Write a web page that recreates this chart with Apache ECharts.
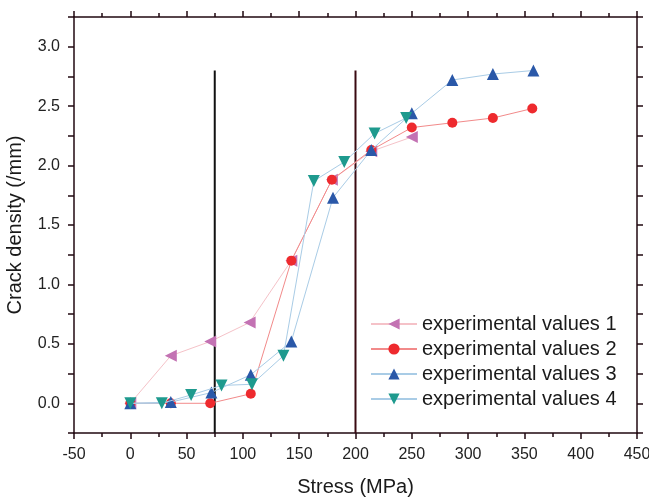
<!DOCTYPE html>
<html>
<head>
<meta charset="utf-8">
<script src="https://cdn.jsdelivr.net/npm/echarts@6/dist/echarts.min.js"></script>
<style>
  html, body { margin: 0; padding: 0; background: #fff; }
  #chart { width: 649px; height: 499px; }
</style>
</head>
<body>
<div id="chart"></div>
<script>
// stress (MPa) and crack density (/mm)
const stress1 = [0, 36, 71, 106, 143, 179, 214, 250];
const density1 = [0, 0.40, 0.52, 0.68, 1.20, 1.88, 2.12, 2.24];

const stress2 = [0, 36, 71, 107, 143, 179, 214, 250, 286, 322, 357];
const density2 = [0, 0, 0, 0.08, 1.20, 1.88, 2.13, 2.32, 2.36, 2.40, 2.48];

const stress3 = [0, 36, 72, 107, 143, 180, 214, 250, 286, 322, 358];
const density3 = [0, 0.01, 0.09, 0.24, 0.52, 1.73, 2.13, 2.44, 2.72, 2.77, 2.80];

const stress4 = [0, 28, 54, 81, 108, 136, 163, 190, 217, 245];
const density4 = [0, 0, 0.07, 0.15, 0.16, 0.40, 1.87, 2.03, 2.27, 2.40];

const seriesNames = ['experimental values 1', 'experimental values 2', 'experimental values 3', 'experimental values 4'];
const refStress = [75, 200];
const refTop = 2.8;

const axisColor = '#200810';
const font = 'Arial, "Liberation Sans", sans-serif';

const pairs = (xs, ys) => xs.map((x, i) => [x, ys[i]]);

const chart = echarts.init(document.getElementById('chart'));

const xCommon = {
  type: 'value',
  min: -50,
  max: 450,
  interval: 50,
  axisLine: { onZero: false, lineStyle: { color: axisColor, width: 1.5 } },
  axisTick: { show: true, length: 6, lineStyle: { color: axisColor, width: 1.5 } },
  minorTick: { show: true, splitNumber: 2, length: 4, lineStyle: { color: axisColor, width: 1.5 } },
  splitLine: { show: false }
};
const yCommon = {
  type: 'value',
  min: -0.25,
  max: 3.25,
  interval: 0.25,
  axisLine: { onZero: false, lineStyle: { color: axisColor, width: 1.5 } },
  axisTick: { show: true, length: 6, lineStyle: { color: axisColor, width: 1.5 } },
  splitLine: { show: false }
};

const refSeries = refStress.map((x, i) => ({
  type: 'line',
  data: [[x, -0.25], [x, refTop]],
  symbol: 'none',
  silent: true,
  lineStyle: { color: i === 0 ? '#111' : '#3a0a12', width: 2 },
  z: 1
}));

const option = {
  animation: false,
  backgroundColor: '#fff',
  textStyle: { fontFamily: font },
  grid: { left: 74, right: 12, top: 17, bottom: 66, containLabel: false, outerBoundsMode: 'none' },
  legend: {
    orient: 'vertical',
    left: 370,
    top: 314,
    padding: 0,
    itemWidth: 46,
    itemHeight: 14,
    itemGap: 5,
    data: seriesNames,
    textStyle: { fontSize: 20, color: '#1a1a1a', fontFamily: font }
  },
  xAxis: [
    Object.assign({}, xCommon, {
      position: 'bottom',
      name: 'Stress (MPa)',
      nameLocation: 'middle',
      nameGap: 44,
      nameTextStyle: { fontSize: 20, color: '#1a1a1a' },
      axisLabel: { fontSize: 16, color: '#222', margin: 14 }
    }),
    Object.assign({}, xCommon, { position: 'top', axisLabel: { show: false } })
  ],
  yAxis: [
    Object.assign({}, yCommon, {
      position: 'left',
      name: 'Crack density (/mm)',
      nameLocation: 'middle',
      nameGap: 49,
      nameTextStyle: { fontSize: 20, color: '#1a1a1a' },
      axisLabel: {
        fontSize: 16,
        color: '#222',
        margin: 14,
        formatter: v => (Math.round(v * 100) % 50 === 0 ? v.toFixed(1) : '')
      }
    }),
    Object.assign({}, yCommon, { position: 'right', axisLabel: { show: false } })
  ],
  series: refSeries.concat([
    {
      name: seriesNames[0],
      type: 'line',
      data: pairs(stress1, density1),
      symbol: 'triangle',
      symbolRotate: 90,
      symbolSize: 12,
      itemStyle: { color: '#c372b3' },
      lineStyle: { color: '#f5c2c8', width: 1 },
      z: 2
    },
    {
      name: seriesNames[1],
      type: 'line',
      data: pairs(stress2, density2),
      symbol: 'circle',
      symbolSize: 10,
      itemStyle: { color: '#ee2a2e' },
      lineStyle: { color: '#f28a8a', width: 1 },
      z: 3
    },
    {
      name: seriesNames[2],
      type: 'line',
      data: pairs(stress3, density3),
      symbol: 'triangle',
      symbolSize: 12,
      itemStyle: { color: '#2a58a8' },
      lineStyle: { color: '#a9cce6', width: 1 },
      z: 4
    },
    {
      name: seriesNames[3],
      type: 'line',
      data: pairs(stress4, density4),
      symbol: 'triangle',
      symbolRotate: 180,
      symbolSize: 12,
      itemStyle: { color: '#1e9a8e' },
      lineStyle: { color: '#a9cce6', width: 1 },
      z: 5
    }
  ])
};

chart.setOption(option);
</script>
</body>
</html>
